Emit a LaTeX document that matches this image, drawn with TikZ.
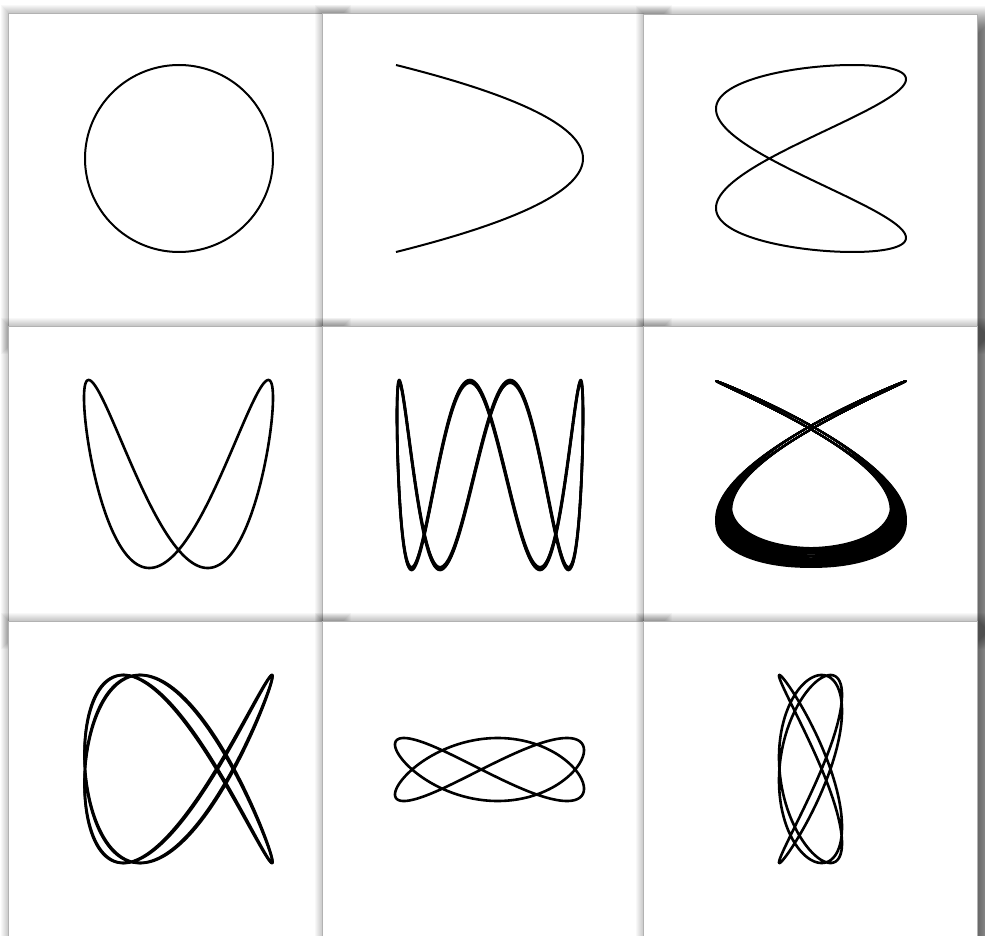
\documentclass[tikz,border=0pt]{standalone}
\usetikzlibrary{calc}

\tikzset{
  panel/.style={fill=white, draw=black!30, line width=0.3pt},
  thintrace/.style={black, line width=1pt, line join=round},
  trace/.style={black, line width=1.3pt, line join=round},
  bandtrace/.style={black, line width=0.9pt, line join=round}
}

% one sheet of paper with its soft shadow (x0,y0,x1,y1 in pixels)
\newcommand{\sheet}[4]{%
  \foreach \e in {0,...,36} {
    \fill[black, opacity=0.026] (#1+29-\e, #2+28-\e) rectangle (#3-7+\e, #4-8+\e);
  }
  \filldraw[panel] (#1,#2) rectangle (#3,#4);
}

\begin{document}
\begin{tikzpicture}[x=0.5pt, y=-0.5pt]
    \useasboundingbox (0,0) rectangle (985,936);
    \clip (0,0) rectangle (985,936);
    \fill[white] (0,0) rectangle (985,936);

    % --- sheets (later ones lie on top) ---
    \sheet{8}{13}{322}{326}
    \sheet{322}{13}{643}{326}
    \sheet{643}{14}{977}{326}
    \sheet{8}{326}{322}{621}
    \sheet{322}{326}{643}{621}
    \sheet{643}{326}{977}{621}
    \sheet{8}{621}{322}{950}
    \sheet{322}{621}{643}{950}
    \sheet{643}{621}{977}{950}

    % --- row 1 ---
    % 1:1, circle
    \begin{scope}[shift={(179,158.5)}, xscale=94, yscale=-93.5]
        \draw[thintrace] plot[domain=0:360, samples=200, variable=\t] ({sin(\t)}, {cos(\t)});
    \end{scope}
    % 1:2, parabola
    \begin{scope}[shift={(489.5,158.5)}, xscale=93.5, yscale=-93.5]
        \draw[thintrace] plot[domain=-90:90, samples=200, variable=\t] ({cos(2*\t)}, {sin(\t)});
    \end{scope}
    % 2:1, skewed eight
    \begin{scope}[shift={(811,158.5)}, xscale=95, yscale=-93.5]
        \draw[thintrace] plot[domain=0:360, samples=300, variable=\t] ({sin(2*\t-26)}, {sin(\t)});
    \end{scope}

    % --- row 2 ---
    % 1:2
    \begin{scope}[shift={(178.5,474)}, xscale=94.5, yscale=-94]
        \draw[trace] plot[domain=0:360, samples=300, variable=\t] ({sin(\t)}, {sin(2*\t-54)});
    \end{scope}
    % 1:4, slightly drifting
    \begin{scope}[shift={(490,475)}, xscale=93, yscale=-95]
        \foreach \a/\p in {1/40, 0.97/40, 0.985/38} {
            \draw[trace] plot[domain=0:360, samples=500, variable=\t] ({sin(\t)}, {\a*sin(4*\t+\p)});
        }
    \end{scope}
    % 3:2, nearly closed, smeared band
    \begin{scope}[shift={(811,474)}, xscale=95, yscale=-93]
        \foreach \k in {0,...,13} {
            \draw[bandtrace] plot[domain=0:360, samples=320, variable=\t]
                ({cos(3*\t+2)*(1-1.6*0.0105*\k*sin(\t)*sin(\t))},
                 {0.5+(cos(2*\t)-0.5)*(1-0.0105*\k*sin(\t)*sin(\t))});
        }
    \end{scope}

    % --- row 3 ---
    % 2:3, nearly closed
    \begin{scope}[shift={(178.5,769)}, xscale=94, yscale=-94]
        \foreach \d in {8,9.5} {
            \draw[trace] plot[domain=0:360, samples=400, variable=\t] ({cos(2*\t)}, {cos(3*\t+\d)});
        }
    \end{scope}
    % 2:3, flat
    \begin{scope}[shift={(489.5,769.5)}, xscale=94.5, yscale=-31.5]
        \draw[trace] plot[domain=0:360, samples=400, variable=\t] ({sin(2*\t-5)}, {sin(3*\t)});
    \end{scope}
    % 4:3, narrow
    \begin{scope}[shift={(810.5,769)}, xscale=31.5, yscale=-94]
        \draw[trace] plot[domain=0:360, samples=600, variable=\t] ({-cos(4*\t)}, {cos(3*\t+7)});
    \end{scope}

\end{tikzpicture}
\end{document}
